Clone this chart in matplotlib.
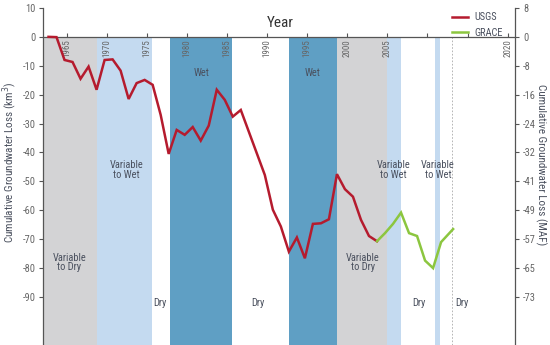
import matplotlib.pyplot as plt

plt.rcParams['font.family'] = ['Roboto Condensed', 'Liberation Sans Narrow', 'Roboto', 'DejaVu Sans']

# USGS cumulative loss (km3), water years
usgs_years = list(range(1963, 2005))
usgs_loss = [0, -0.1, -8, -8.7, -14.5, -10.3, -18.3, -8, -7.8, -11.7,
             -21.5, -16, -14.9, -16.6, -27, -40.5, -32.2, -33.9, -31.2, -35.9,
             -30.7, -18.3, -21.8, -27.6, -25.3, -32.8, -40.3, -47.8, -59.8, -65.6,
             -74.3, -69.4, -76.6, -64.7, -64.5, -63.1, -47.5, -52.7, -55.3, -63.3,
             -68.9, -70.7]

# GRACE cumulative loss (km3)
grace_years = [2004, 2005, 2006, 2007, 2008, 2009, 2010, 2011, 2012, 2013.5]
grace_loss = [-70.7, -67.9, -64.7, -60.8, -67.9, -68.9, -77.4, -80, -71, -66.5]

# climate periods: start, end, kind
periods = [
    (1962, 1968.8, 'vdry'), (1968.8, 1975.6, 'vwet'), (1977.9, 1985.6, 'wet'),
    (1992.75, 1998.75, 'wet'), (1998.75, 2005, 'vdry'), (2005, 2006.75, 'vwet'),
    (2010.9, 2011.6, 'vwet'),
]
period_colors = {'vdry': '#d3d3d5', 'vwet': '#c4daf0', 'wet': '#5f9fc4'}

# period labels: x, y, text
period_labels = [
    (1965.3, -78, 'Variable\nto Dry'), (1972.4, -46, 'Variable\nto Wet'),
    (1981.8, -12.5, 'Wet'), (1976.6, -92, 'Dry'), (1988.8, -92, 'Dry'),
    (1995.6, -12.5, 'Wet'), (2001.9, -78, 'Variable\nto Dry'),
    (2005.75, -46, 'Variable\nto Wet'), (2011.3, -46, 'Variable\nto Wet'),
    (2008.9, -92, 'Dry'), (2014.3, -92, 'Dry'),
]

year_ticks = [1965, 1970, 1975, 1980, 1985, 1990, 1995, 2000, 2005, 2010, 2015, 2020]
year_labels = ['1965', '1970', '1975', '1980', '1985', '1990', '1995', '2000', '2005', '', '', '2020']
km3_ticks = [10, 0, -10, -20, -30, -40, -50, -60, -70, -80, -90]
maf_labels = ['8', '0', '-8', '-16', '-24', '-32', '-41', '-49', '-57', '-65', '-73']

YEAR_SHIFT = -0.3
TEXT = '#4a505e'
TICK = '#666666'

fig = plt.figure(figsize=(5.5, 3.45), dpi=100)
ax = fig.add_axes([0.078, 0.0, 0.858, 0.977])
ymin, ymax = -106.6, 10
ax.set_xlim(1962, 2020.9)
ax.set_ylim(ymin, ymax)

for x0, x1, kind in periods:
    ax.fill_between([x0, x1], ymin, 0, color=period_colors[kind], lw=0, zorder=0)
ax.plot([2013.1, 2013.1], [ymin, 0], color='#aaaaaa', lw=0.6, ls=(0, (2, 2)), zorder=1)

for x, y, t in period_labels:
    ax.text(x, y, t, ha='center', va='center', fontsize=7.5, color=TEXT,
            linespacing=0.95, zorder=2)

ax.plot([y + YEAR_SHIFT for y in usgs_years], usgs_loss, color='#b51b2e', lw=1.8,
        label='USGS', zorder=3, solid_joinstyle='miter')
ax.plot([y + YEAR_SHIFT for y in grace_years], grace_loss, color='#8cc63f', lw=1.8,
        label='GRACE', zorder=3, solid_joinstyle='miter')

# x axis along zero line
ax.spines['top'].set_visible(False)
ax.spines['bottom'].set_position(('data', 0))
for s in ['bottom', 'left']:
    ax.spines[s].set_color('#555555')
    ax.spines[s].set_linewidth(0.9)
ax.spines['right'].set_visible(False)
ax.set_xticks(year_ticks)
ax.set_xticklabels(year_labels, rotation=90, fontsize=6.5, color=TICK)
ax.tick_params(axis='x', direction='in', length=3, width=0.8, color='#555555', pad=2)
ax.set_yticks(km3_ticks)
ax.set_yticklabels([str(v) for v in km3_ticks], fontsize=7.5, color=TICK)
ax.tick_params(axis='y', direction='out', length=3, width=0.8, color='#555555', pad=2)
ax.set_ylabel('Cumulative Groundwater Loss (km$^3$)', fontsize=8, color=TEXT)
ax.yaxis.set_label_coords(-0.05, 0.543)

ax.text(0.502, 0.955, 'Year', transform=ax.transAxes, ha='center', va='center',
        fontsize=11, color='#333333')

ax2 = ax.twinx()
ax2.set_ylim(ymin, ymax)
ax2.set_yticks(km3_ticks)
ax2.set_yticklabels(maf_labels, fontsize=7.5, color=TICK)
ax2.tick_params(axis='y', direction='out', length=3, width=0.8, color='#555555', pad=3)
for s in ['top', 'bottom', 'left']:
    ax2.spines[s].set_visible(False)
ax2.spines['right'].set_color('#555555')
ax2.spines['right'].set_linewidth(0.9)
ax2.set_ylabel('Cumulative Groundwater Loss (MAF)', fontsize=8, color=TEXT,
               rotation=270, va='center')
ax2.yaxis.set_label_coords(1.056, 0.534)

leg = ax.legend(loc='upper right', bbox_to_anchor=(0.995, 1.015), frameon=False,
                fontsize=7.5, handlelength=1.6, labelspacing=0.55, handletextpad=0.6)
for t in leg.get_texts():
    t.set_color(TEXT)

fig.savefig('out.png', dpi=100)
